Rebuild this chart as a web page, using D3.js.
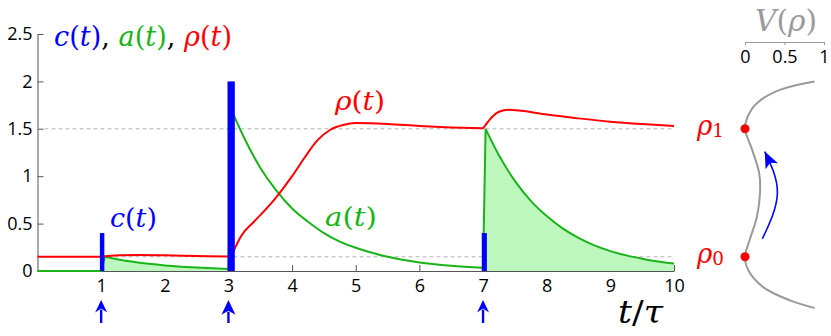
<!DOCTYPE html>
<html>
<head>
<meta charset="utf-8">
<script src="https://cdn.jsdelivr.net/npm/d3@7"></script>
<style>
  body { margin: 0; background: #fff; }
</style>
</head>
<body>
<svg id="chart" width="831" height="336"></svg>
<script>
// pulses c(t): start time, amplitude, on/off times
const pulseT = [1, 3, 7];
const pulseAmp = [0.4, 2.0, 0.4];
const pulseOn = [0.98, 2.985, 6.98];
const pulseOff = [1.05, 3.1, 7.06];

// a(t)
const tA = [0, 1.0, 1.06, 1.25, 1.5, 1.75, 2, 2.25, 2.5, 2.75, 3.0,
  3.08, 3.25, 3.5, 3.75, 4, 4.25, 4.5, 4.75, 5, 5.5, 6, 6.5, 7.0,
  7.04, 7.25, 7.5, 7.75, 8, 8.25, 8.5, 8.75, 9, 9.25, 9.5, 9.75, 10];
const aVals = [0, 0, 0.15, 0.125, 0.097, 0.076, 0.059, 0.046, 0.036, 0.028, 0.022,
  1.65, 1.40, 1.09, 0.85, 0.66, 0.52, 0.40, 0.31, 0.245, 0.15, 0.09, 0.055, 0.033,
  1.5, 1.22, 0.95, 0.74, 0.58, 0.45, 0.35, 0.27, 0.21, 0.165, 0.13, 0.10, 0.078];

// rho(t)
const tRho = [0, 1.0, 1.1, 1.3, 1.6, 2, 2.5, 3.0,
  3.08, 3.2, 3.4, 3.6, 3.8, 4.0, 4.2, 4.4, 4.6, 4.8, 5.0, 5.5, 6, 6.5, 7.0,
  7.05, 7.15, 7.25, 7.4, 7.6, 8, 8.5, 9, 9.5, 10];
const rhoVals = [0.15, 0.15, 0.158, 0.166, 0.168, 0.165, 0.158, 0.152,
  0.21, 0.37, 0.52, 0.66, 0.82, 1.0, 1.2, 1.38, 1.49, 1.54, 1.56, 1.55, 1.53, 1.515, 1.505,
  1.55, 1.63, 1.68, 1.70, 1.69, 1.65, 1.61, 1.575, 1.55, 1.53];

// potential V(rho) on the right
const potRho = [2.0, 1.91, 1.77, 1.62, 1.5, 1.28, 1.03, 0.82, 0.57, 0.33, 0.15, 0.01, -0.17, -0.31, -0.39];
const potV = [0.88, 0.44, 0.15, 0.03, 0, 0.09, 0.18, 0.19, 0.15, 0.06, 0, 0.04, 0.23, 0.57, 0.88];
const wells = [0.15, 1.5];
const wellNames = ["0", "1"];

const shadedPulses = [1, 7];
const yTicks = [0, 0.5, 1, 1.5, 2, 2.5];
const xTicks = [1, 2, 3, 4, 5, 6, 7, 8, 9, 10];
const vTicks = [0, 0.5, 1];

const BLUE = "#0000ff", GREEN = "#19b419", RED = "#ff0000", GREY = "#9a9a9a";
const SANS = "'Open Sans', sans-serif";
const SERIF = "'DejaVu Serif', 'Liberation Serif', serif";

const svg = d3.select("#chart");
const x = d3.scaleLinear([0, 10], [37.5, 674]);
const y = d3.scaleLinear([0, 2.5], [271, 34]);
const v = d3.scaleLinear([0, 1], [745, 824]);

svg.append("defs").append("marker")
  .attr("id", "head")
  .attr("markerUnits", "userSpaceOnUse")
  .attr("markerWidth", 20).attr("markerHeight", 20)
  .attr("viewBox", "-14 -8 16 16")
  .attr("refX", 0).attr("refY", 0)
  .attr("orient", "auto")
  .append("path")
  .attr("d", "M0,0L-13,-5.5L-10,0L-13,5.5Z")
  .attr("fill", BLUE);

// helper for the math labels: parts are [text, italic, colour, size, dy]
function mathText(px, py, size, width, parts) {
  const t = svg.append("text")
    .attr("font-family", SERIF)
    .attr("x", px).attr("y", py).attr("font-size", size)
    .attr("textLength", width).attr("lengthAdjust", "spacingAndGlyphs");
  parts.forEach(p => {
    const s = t.append("tspan").text(p[0]).attr("fill", p[2] || "#000");
    if (p[1]) s.attr("font-style", "italic");
    if (p[3]) s.attr("font-size", p[3]).attr("dy", p[4] || 0);
  });
  return t;
}

// axes
const yAxis = svg.append("g").attr("transform", `translate(${x(0)},0)`)
  .call(d3.axisLeft(y).tickValues(yTicks).tickFormat(d => d)
    .tickSize(-6).tickSizeOuter(0).tickPadding(5));
const xAxis = svg.append("g").attr("transform", `translate(0,${y(0)})`)
  .call(d3.axisBottom(x).tickValues(xTicks).tickFormat(d => d)
    .tickSize(-6).tickSizeOuter(0).tickPadding(8));
[yAxis, xAxis].forEach(g => {
  g.attr("font-family", SANS).attr("font-size", 18);
  g.selectAll("path, line").attr("stroke", "#555");
  g.selectAll("text").attr("fill", "#000");
});

// dashed levels
svg.selectAll(".lvl").data(wells).join("line")
  .attr("x1", x(0)).attr("x2", x(10))
  .attr("y1", d => y(d)).attr("y2", d => y(d))
  .attr("stroke", "#b4b4b4").attr("stroke-dasharray", "4,3");

// split curves at the pulses, smooth inside each piece, straight across the jumps
const segOf = t => d3.sum(pulseT, p => p < t - 1e-3 ? 1 : 0);
const smooth = d3.line().x(d => x(d.t)).y(d => y(d.v)).curve(d3.curveMonotoneX);
function pieces(ts, vs) {
  const pts = ts.map((t, i) => ({ t, v: vs[i] }));
  return d3.groups(pts, d => segOf(d.t)).map(g => g[1]);
}
function joined(groups) {
  return groups.map((g, i) => {
    const s = smooth(g).replace(/Z$/, "");
    return i ? s.replace(/^M/, "L") : s;
  }).join("");
}

const aPieces = pieces(tA, aVals);
const rhoPieces = pieces(tRho, rhoVals);

// shaded area under a(t) after the small pulses
shadedPulses.forEach(p => {
  const k = pulseT.indexOf(p);
  const prev = aPieces[k], seg = aPieces[k + 1];
  const last = prev[prev.length - 1], end = seg[seg.length - 1];
  const d = `M${x(last.t)},${y(0)}L${x(last.t)},${y(last.v)}` +
    smooth(seg).replace(/Z$/, "").replace(/^M/, "L") +
    `L${x(end.t)},${y(0)}Z`;
  svg.append("path").attr("d", d).attr("fill", "#bdf7bd");
});

svg.append("path").attr("d", joined(aPieces))
  .attr("fill", "none").attr("stroke", GREEN).attr("stroke-width", 2);
svg.append("path").attr("d", joined(rhoPieces))
  .attr("fill", "none").attr("stroke", RED).attr("stroke-width", 2);

// c(t) bars
svg.selectAll(".pulse").data(pulseT).join("rect")
  .attr("x", (d, i) => x(pulseOn[i]))
  .attr("width", (d, i) => x(pulseOff[i]) - x(pulseOn[i]))
  .attr("y", (d, i) => y(pulseAmp[i]))
  .attr("height", (d, i) => y(0) - y(pulseAmp[i]))
  .attr("fill", BLUE);

// arrows under the axis
const headW = d3.scaleLinear([0.4, 2], [12, 14]);
pulseT.forEach((t, i) => {
  const w = headW(pulseAmp[i]), h = w * 1.05;
  const g = svg.append("g").attr("transform", `translate(${x(t)},300)`);
  g.append("line").attr("x1", 0).attr("x2", 0).attr("y1", h - 3).attr("y2", 23)
    .attr("stroke", BLUE).attr("stroke-width", 2.4);
  g.append("path").attr("d", `M0,0L${-w / 2},${h}L0,${h - 4}L${w / 2},${h}Z`)
    .attr("fill", BLUE);
});

// labels
mathText(54, 46, 27, 178, [["c", 1, BLUE], ["(", 0, BLUE], ["t", 1, BLUE], [")", 0, BLUE], [", ", 0],
  ["a", 1, GREEN], ["(", 0, GREEN], ["t", 1, GREEN], [")", 0, GREEN], [", ", 0],
  ["ρ", 1, RED], ["(", 0, RED], ["t", 1, RED], [")", 0, RED]]);
mathText(110, 227, 26, 47, [["c", 1, BLUE], ["(", 0, BLUE], ["t", 1, BLUE], [")", 0, BLUE]]);
mathText(325, 226, 26, 52, [["a", 1, GREEN], ["(", 0, GREEN], ["t", 1, GREEN], [")", 0, GREEN]]);
mathText(335, 110, 26, 50, [["ρ", 1, RED], ["(", 0, RED], ["t", 1, RED], [")", 0, RED]]);
mathText(618, 323, 31, 45, [["t", 1], ["/", 0], ["τ", 1]]);

// right panel: potential
const vAxis = svg.append("g").attr("transform", "translate(0,42)")
  .call(d3.axisBottom(v).tickValues(vTicks).tickFormat(d => d)
    .tickSize(3).tickSizeOuter(0).tickPadding(5));
vAxis.attr("font-family", SANS).attr("font-size", 18);
vAxis.selectAll("path, line").attr("stroke", GREY);
vAxis.selectAll("text").attr("fill", "#000");
mathText(755, 31, 30, 62, [["V", 1, GREY], ["(", 0, GREY], ["ρ", 1, GREY], [")", 0, GREY]]);

svg.append("path")
  .datum(potRho.map((r, i) => [potV[i], r]))
  .attr("d", d3.line().x(d => v(d[0])).y(d => y(d[1])).curve(d3.curveCatmullRom.alpha(0.5)))
  .attr("fill", "none").attr("stroke", GREY).attr("stroke-width", 2);

svg.selectAll(".well").data(wells).join("circle")
  .attr("cx", v(0)).attr("cy", d => y(d)).attr("r", 4.5).attr("fill", RED);
wells.forEach((r, i) => {
  mathText(697, y(r) + 6, 27, 27, [["ρ", 1, RED], [wellNames[i], 0, RED, 19, 2]]);
});

// transition arrow between the wells
svg.append("path")
  .datum([[0.22, 0.34], [0.41, 0.82], [0.25, 1.26]])
  .attr("d", d3.line().x(d => v(d[0])).y(d => y(d[1])).curve(d3.curveNatural))
  .attr("fill", "none").attr("stroke", BLUE).attr("stroke-width", 1.6)
  .attr("marker-end", "url(#head)");
</script>
</body>
</html>
